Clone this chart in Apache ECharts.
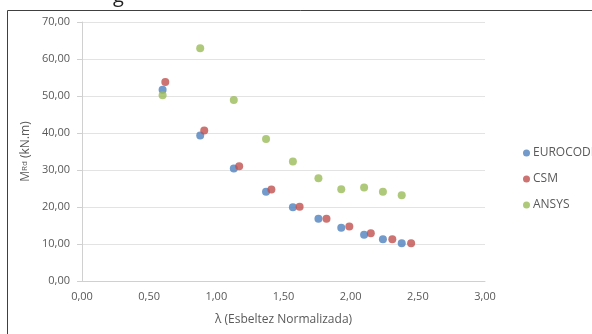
<!DOCTYPE html>
<html>
<head>
<meta charset="utf-8">
<script src="https://cdn.jsdelivr.net/npm/echarts@6/dist/echarts.min.js"></script>
<style>
  html, body { margin: 0; padding: 0; background: #fff; }
  #chart { width: 592px; height: 334px; }
</style>
</head>
<body>
<div id="chart"></div>
<script>
// lambda (esbeltez normalizada) and MRd (kN.m)
var eurocodeX = [0.60, 0.88, 1.13, 1.37, 1.57, 1.76, 1.93, 2.10, 2.24, 2.38]
var eurocodeY = [51.7, 39.3, 30.4, 24.1, 19.9, 16.8, 14.4, 12.5, 11.3, 10.2]
var csmX = [0.62, 0.91, 1.17, 1.41, 1.62, 1.82, 1.99, 2.15, 2.31, 2.45]
var csmY = [53.8, 40.7, 31.0, 24.7, 20.1, 16.8, 14.7, 12.9, 11.3, 10.2]
var ansysX = [0.60, 0.88, 1.13, 1.37, 1.57, 1.76, 1.93, 2.10, 2.24, 2.38]
var ansysY = [50.2, 62.9, 48.9, 38.4, 32.3, 27.8, 24.8, 25.3, 24.1, 23.2]

function pairs(xs, ys) {
  return xs.map(function (x, i) { return [x, ys[i]] })
}

function fmt(v) {
  return v.toFixed(2).replace('.', ',')
}

var labelColor = '#595959'
var font = 'Open Sans'

var chart = echarts.init(document.getElementById('chart'))
chart.setOption({
  animation: false,
  textStyle: { fontFamily: font },
  graphic: [
    // border of the chart frame, cut at right/bottom
    {
      type: 'rect',
      shape: { x: 7.5, y: 10.5, width: 700, height: 400 },
      style: { fill: null, stroke: '#404040', lineWidth: 1 }
    },
    // descender of the cropped title
    {
      type: 'text',
      left: 113,
      top: -14,
      style: { text: 'g', fontSize: 20, fill: '#222', fontFamily: font }
    }
  ],
  grid: { left: 82, right: 107, top: 22, bottom: 53 },
  legend: {
    orient: 'vertical',
    left: 518,
    top: 142,
    itemWidth: 7,
    itemHeight: 7,
    itemGap: 14,
    icon: 'circle',
    textStyle: { color: labelColor, fontSize: 12, fontFamily: font, padding: [0, 0, 0, -2] },
    data: ['EUROCODE', 'CSM', 'ANSYS']
  },
  xAxis: {
    type: 'value',
    min: 0,
    max: 3,
    interval: 0.5,
    name: 'λ (Esbeltez Normalizada)',
    nameLocation: 'middle',
    nameGap: 33,
    nameTextStyle: { color: labelColor, fontSize: 12, fontFamily: font },
    axisLine: { show: true, lineStyle: { color: '#d0d0d0' } },
    axisTick: { show: false },
    splitLine: { show: false },
    axisLabel: { color: labelColor, fontSize: 11, margin: 10, formatter: fmt }
  },
  yAxis: {
    type: 'value',
    min: 0,
    max: 70,
    interval: 10,
    name: '{m|M}{s|Rd}{m| (kN.m)}',
    nameLocation: 'middle',
    nameGap: 49,
    nameTextStyle: {
      color: labelColor,
      rich: {
        m: { fontSize: 12, color: labelColor, fontFamily: font },
        s: { fontSize: 8, color: labelColor, fontFamily: font }
      }
    },
    axisLine: { show: true, lineStyle: { color: '#d0d0d0' } },
    axisTick: { show: true, length: 5, lineStyle: { color: '#d0d0d0' } },
    splitLine: { show: true, lineStyle: { color: '#e3e3e3' } },
    axisLabel: { color: labelColor, fontSize: 11, margin: 12, formatter: fmt }
  },
  series: [
    {
      name: 'EUROCODE',
      type: 'scatter',
      symbolSize: 8,
      itemStyle: { color: '#4F81BD' },
      data: pairs(eurocodeX, eurocodeY)
    },
    {
      name: 'CSM',
      type: 'scatter',
      symbolSize: 8,
      itemStyle: { color: '#C0504D' },
      data: pairs(csmX, csmY)
    },
    {
      name: 'ANSYS',
      type: 'scatter',
      symbolSize: 8,
      itemStyle: { color: '#9BBB59' },
      data: pairs(ansysX, ansysY)
    }
  ]
})
</script>
</body>
</html>
